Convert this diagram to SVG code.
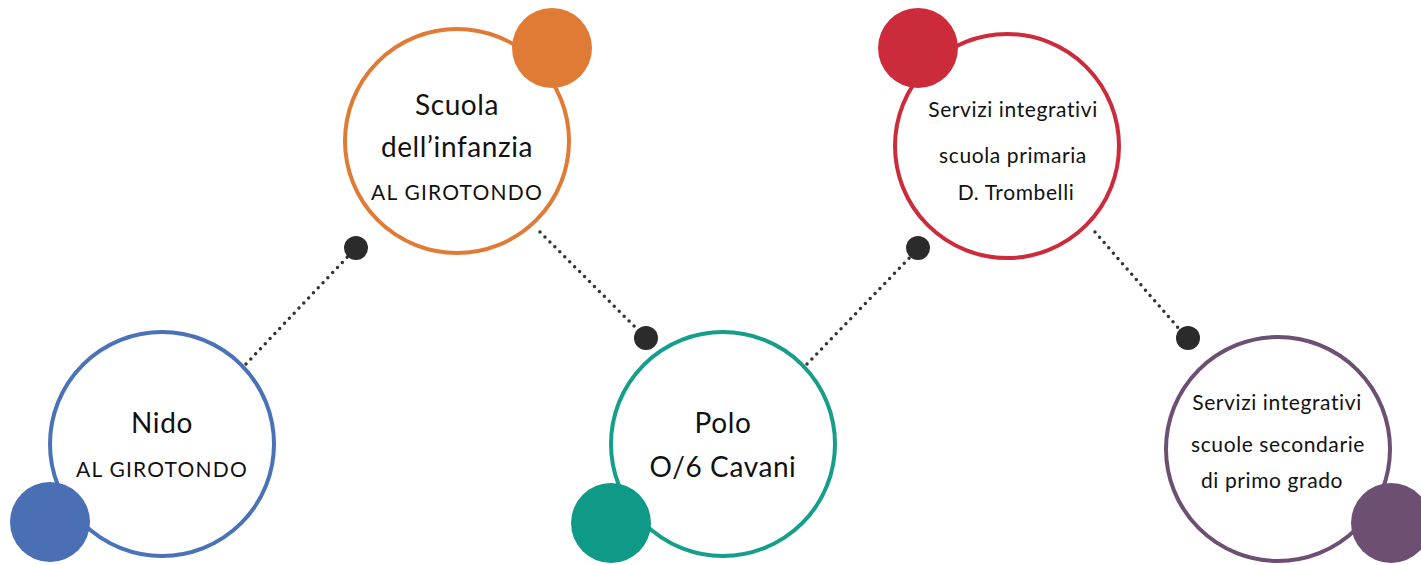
<svg xmlns="http://www.w3.org/2000/svg" width="1421" height="565" viewBox="0 0 1421 565">
<style>
.ring{fill:#fff;stroke-width:4}
.t{font-family:Lato,"Open Sans","Liberation Sans",sans-serif;font-weight:400;fill:#111;text-anchor:middle}
.big{font-size:28px;letter-spacing:0.6px}
.mid{font-size:21px;letter-spacing:1.2px}
.sm{font-size:21px;letter-spacing:0.6px}
.conn{stroke:#333;stroke-width:3.5;stroke-linecap:round;stroke-dasharray:0 7;fill:none}
.dot{fill:#2b2b2b}
</style>
<rect width="1421" height="565" fill="#fff"/>
<g id="connectors">
<line class="conn" x1="246" y1="364" x2="355" y2="249"/>
<line class="conn" x1="540" y1="232" x2="646" y2="338"/>
<line class="conn" x1="807" y1="364" x2="918" y2="249"/>
<line class="conn" x1="1095" y1="232" x2="1187" y2="338"/>
<circle class="dot" cx="356" cy="248" r="12"/>
<circle class="dot" cx="646" cy="338" r="12"/>
<circle class="dot" cx="918" cy="248" r="12"/>
<circle class="dot" cx="1188" cy="338" r="12"/>
</g>
<g id="nido">
<circle class="ring" cx="162" cy="444" r="112" stroke="#4a72b8"/>
<circle cx="50" cy="522" r="40" fill="#4a6fb5"/>
<text class="t big" x="162" y="433">Nido</text>
<text class="t mid" x="162" y="477">AL GIROTONDO</text>
</g>
<g id="scuola">
<circle class="ring" cx="457" cy="141" r="112" stroke="#e07b35"/>
<circle cx="552" cy="48" r="40" fill="#e07b35"/>
<text class="t big" x="457" y="115">Scuola</text>
<text class="t big" x="457" y="157">dell’infanzia</text>
<text class="t mid" x="457" y="200">AL GIROTONDO</text>
</g>
<g id="polo">
<circle class="ring" cx="723" cy="444" r="112" stroke="#159e8a"/>
<circle cx="611" cy="523" r="40" fill="#0e9a86"/>
<text class="t big" x="723" y="433">Polo</text>
<text class="t big" x="723" y="477">O/6 Cavani</text>
</g>
<g id="primaria">
<circle class="ring" cx="1007" cy="146" r="112" stroke="#cc2b3b"/>
<circle cx="918" cy="48" r="40" fill="#cc2b3b"/>
<text class="t sm" x="1013" y="117">Servizi integrativi</text>
<text class="t sm" x="1013" y="163">scuola primaria</text>
<text class="t sm" x="1016" y="200">D. Trombelli</text>
</g>
<g id="secondarie">
<circle class="ring" cx="1278" cy="449" r="112" stroke="#6c4f72"/>
<circle cx="1391" cy="523" r="40" fill="#6c4f72"/>
<text class="t sm" x="1277" y="410">Servizi integrativi</text>
<text class="t sm" x="1278" y="452">scuole secondarie</text>
<text class="t sm" x="1272" y="488">di primo grado</text>
</g>
</svg>
